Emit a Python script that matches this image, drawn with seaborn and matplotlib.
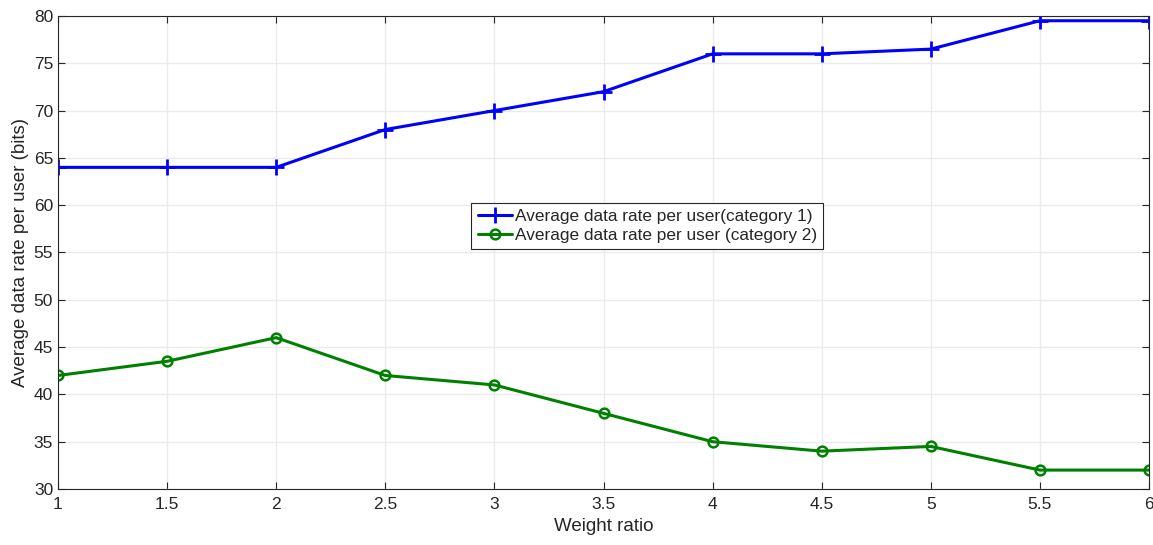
import matplotlib
matplotlib.use("Agg")
import matplotlib.pyplot as plt
import seaborn as sns
import pandas as pd

weight_ratio = [1, 1.5, 2, 2.5, 3, 3.5, 4, 4.5, 5, 5.5, 6]
rate_cat1 = [64, 64, 64, 68, 70, 72, 76, 76, 76.5, 79.5, 79.5]
rate_cat2 = [42, 43.5, 46, 42, 41, 38, 35, 34, 34.5, 32, 32]
label1 = "Average data rate per user(category 1)"
label2 = "Average data rate per user (category 2)"
x_ticks = [1, 1.5, 2, 2.5, 3, 3.5, 4, 4.5, 5, 5.5, 6]
y_ticks = [30, 35, 40, 45, 50, 55, 60, 65, 70, 75, 80]

sns.set_theme(style="white")
plt.rcParams['font.family'] = ['Liberation Sans', 'DejaVu Sans']

fig = plt.figure(figsize=(11.53, 5.45), dpi=100)
ax = fig.add_axes([58/1153, 1 - 489/545, (1149-58)/1153, (489-16)/545])

df1 = pd.DataFrame({"x": weight_ratio, "y": rate_cat1})
df2 = pd.DataFrame({"x": weight_ratio, "y": rate_cat2})
sns.lineplot(data=df1, x="x", y="y", ax=ax, color="#0000ff", lw=2.2,
             marker="+", markersize=11, markeredgewidth=2,
             markeredgecolor="#0000ff", label=label1)
sns.lineplot(data=df2, x="x", y="y", ax=ax, color="#008000", lw=2.2,
             marker="o", markersize=7, markerfacecolor="none",
             markeredgecolor="#008000", markeredgewidth=1.8, label=label2)

ax.set_xlim(1, 6)
ax.set_ylim(30, 80)
ax.set_xticks(x_ticks)
ax.set_xticklabels([f"{v:g}" for v in x_ticks])
ax.set_yticks(y_ticks)
ax.grid(True, color="#ebebeb", lw=1)
ax.set_axisbelow(True)
for s in ax.spines.values():
    s.set_color("#262626")
    s.set_linewidth(0.8)
ax.tick_params(axis="both", direction="in", length=5, width=0.8, colors="#262626",
               labelsize=12.5, labelcolor="#262626", top=True, right=True, bottom=True, left=True)
ax.tick_params(axis="x", pad=6)
ax.set_xlabel("Weight ratio", fontsize=13.5, color="#262626", labelpad=4)
ax.set_ylabel("Average data rate per user (bits)", fontsize=13.5, color="#262626", labelpad=3)

leg = ax.legend(loc="upper left", bbox_to_anchor=(0.379, 0.605), fontsize=12.4,
                frameon=True, fancybox=False, edgecolor="#262626", framealpha=1,
                handlelength=2.0, handletextpad=0.15, borderpad=0.35, labelspacing=0.25,
                borderaxespad=0)
leg.get_frame().set_linewidth(0.8)

fig.savefig("out.png", dpi=100)
